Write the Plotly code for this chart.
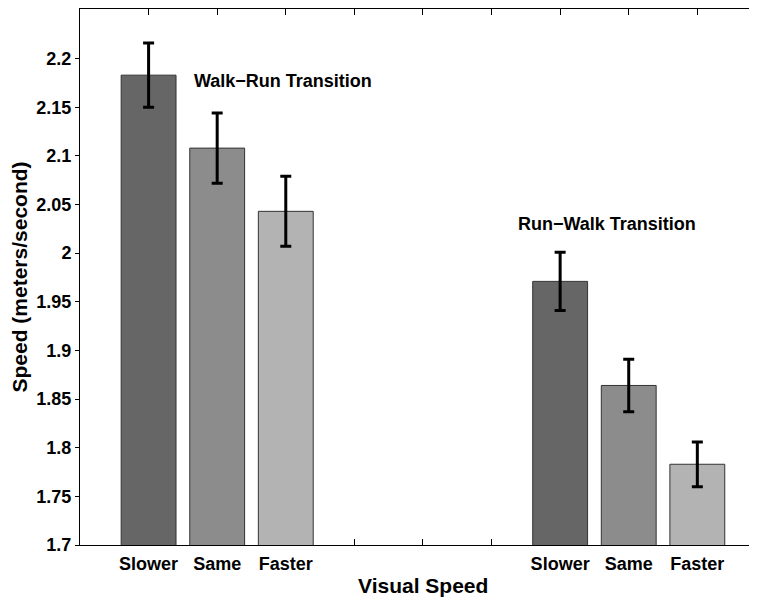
import plotly.graph_objects as go

positions = [1, 2, 3, 4, 5, 6, 7, 8, 9]
tick_labels = ["Slower", "Same", "Faster", "", "", "", "Slower", "Same", "Faster"]
speeds = [2.183, 2.108, 2.043, None, None, None, 1.971, 1.864, 1.783]
errors = [0.033, 0.036, 0.036, 0, 0, 0, 0.030, 0.027, 0.023]
bar_colors = ["#666666", "#8c8c8c", "#b3b3b3", "#ffffff", "#ffffff", "#ffffff",
              "#666666", "#8c8c8c", "#b3b3b3"]
y_ticks = [1.7, 1.75, 1.8, 1.85, 1.9, 1.95, 2.0, 2.05, 2.1, 2.15, 2.2]
y_tick_text = ["1.7", "1.75", "1.8", "1.85", "1.9", "1.95", "2", "2.05", "2.1", "2.15", "2.2"]
annotations_text = ["Walk\u2212Run Transition", "Run\u2212Walk Transition"]
annotations_x = [1.63, 6.36]
annotations_y = [2.1775, 2.0296]

FONT = "Liberation Sans, Arial, Helvetica, sans-serif"

fig = go.Figure()
fig.add_trace(go.Bar(
    x=positions, y=speeds, width=0.8,
    marker=dict(color=bar_colors, line=dict(color="#333333", width=1)),
    error_y=dict(type="data", array=errors, visible=True, color="black",
                 thickness=3, width=5.5),
    showlegend=False,
))

for t, ax, ay in zip(annotations_text, annotations_x, annotations_y):
    fig.add_annotation(x=ax, y=ay, text=t, showarrow=False, xanchor="left",
                       yanchor="middle",
                       font=dict(family=FONT, size=18, color="black", weight="bold"))

# x-axis title centred on the full MATLAB axis (0..10)
fig.add_annotation(x=5, xref="x", y=0, yref="paper", yshift=-40, text="Visual Speed",
                   showarrow=False, xanchor="center", yanchor="middle",
                   font=dict(family=FONT, size=21, color="black", weight="bold"))

# the page adds an 8px body margin, so the figure is sized to fit the window
fig.update_layout(
    width=749, height=590,
    margin=dict(l=72, r=0, t=1, b=53),
    plot_bgcolor="white", paper_bgcolor="white",
    xaxis=dict(
        range=[0, 9.87], tickmode="array", tickvals=positions, ticktext=tick_labels,
        showline=True, linecolor="black", linewidth=1, mirror="ticks",
        ticks="inside", ticklen=6, tickcolor="black", showgrid=False, zeroline=False,
        layer="below traces", automargin=False,
        tickfont=dict(family=FONT, size=18, color="black", weight="bold"),
        ticklabelstandoff=2,
    ),
    yaxis=dict(
        range=[1.7, 2.251], tickmode="array", tickvals=y_ticks, ticktext=y_tick_text,
        showline=True, linecolor="black", linewidth=1, mirror=False,
        ticks="outside", ticklen=4, tickcolor="black", showgrid=False, zeroline=False,
        automargin=False,
        tickfont=dict(family=FONT, size=18, color="black", weight="bold"),
        title=dict(text="Speed (meters/second)", standoff=6,
                   font=dict(family=FONT, size=21, color="black", weight="bold")),
    ),
)

fig.write_html("out.html")
